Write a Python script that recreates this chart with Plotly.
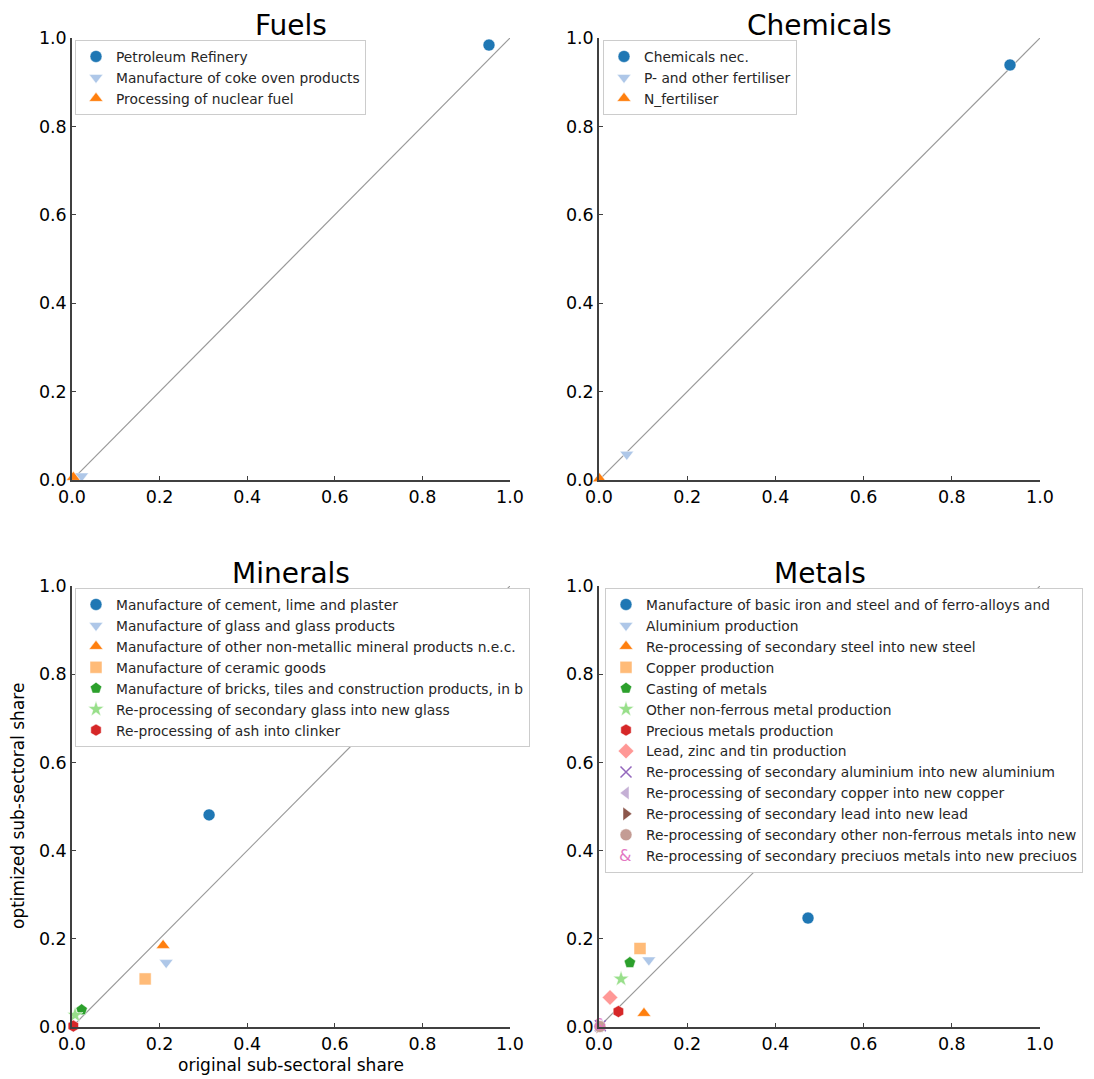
import plotly.graph_objects as go

# ---- data -------------------------------------------------------------
fuels_labels = ["Petroleum Refinery", "Manufacture of coke oven products",
                "Processing of nuclear fuel"]
fuels_orig = [0.952, 0.022, 0.003]
fuels_opt = [0.984, 0.009, 0.006]

chem_labels = ["Chemicals nec.", "P- and other fertiliser", "N_fertiliser"]
chem_orig = [0.932, 0.063, 0.001]
chem_opt = [0.939, 0.058, 0.003]

min_labels = ["Manufacture of cement, lime and plaster",
              "Manufacture of glass and glass products",
              "Manufacture of other non-metallic mineral products n.e.c.",
              "Manufacture of ceramic goods",
              "Manufacture of bricks, tiles and construction products, in b",
              "Re-processing of secondary glass into new glass",
              "Re-processing of ash into clinker"]
min_orig = [0.313, 0.215, 0.208, 0.167, 0.022, 0.007, 0.003]
min_opt = [0.481, 0.146, 0.185, 0.109, 0.039, 0.027, 0.002]

met_labels = ["Manufacture of basic iron and steel and of ferro-alloys and",
              "Aluminium production",
              "Re-processing of secondary steel into new steel",
              "Copper production",
              "Casting of metals",
              "Other non-ferrous metal production",
              "Precious metals production",
              "Lead, zinc and tin production",
              "Re-processing of secondary aluminium into new aluminium",
              "Re-processing of secondary copper into new copper",
              "Re-processing of secondary lead into new lead",
              "Re-processing of secondary other non-ferrous metals into new",
              "Re-processing of secondary preciuos metals into new preciuos"]
met_orig = [0.474, 0.113, 0.102, 0.093, 0.070, 0.050, 0.044, 0.025,
            0.003, 0.002, 0.001, 0.002, 0.002]
met_opt = [0.247, 0.152, 0.031, 0.178, 0.146, 0.109, 0.035, 0.067,
           0.003, 0.002, 0.001, 0.001, 0.002]

colors = ['#1f77b4', '#aec7e8', '#ff7f0e', '#ffbb78', '#2ca02c', '#98df8a',
          '#d62728', '#ff9896', '#9467bd', '#c5b0d5', '#8c564b', '#c49c94',
          '#e377c2']
symbols = ['circle', 'triangle-down', 'triangle-up', 'square', 'pentagon',
           'star', 'hexagon', 'diamond', 'x-thin', 'triangle-left',
           'triangle-right', 'circle', '&']

ticks = [0.0, 0.2, 0.4, 0.6, 0.8, 1.0]
tick_text = ["0.0", "0.2", "0.4", "0.6", "0.8", "1.0"]

W, H = 1094, 1079
FONT = "DejaVu Sans"
LEG_FONT = 13.8
ROW_H = LEG_FONT * 1.3 + 3          # plotly legend row pitch
ROW0 = ROW_H / 2 + 5.4              # first row centre below legend top
LEG_SHIFT = 4                       # nudge legends up a little

# panel geometry in pixels: (left, right, top, bottom), legend top-left
panels = [
    ("Fuels", fuels_labels, fuels_orig, fuels_opt, (72, 510, 38, 480), (75, 44)),
    ("Chemicals", chem_labels, chem_orig, chem_opt, (599, 1040, 38, 480), (603, 44)),
    ("Minerals", min_labels, min_orig, min_opt, (72, 510, 586, 1027), (75, 592)),
    ("Metals", met_labels, met_orig, met_opt, (599, 1040, 586, 1027), (605, 592)),
]

fig = go.Figure()
annotations = []
layout = {}

for i, (title, labels, xo, yo, (l, r, t, b), (lx, ly)) in enumerate(panels):
    n = i + 1
    xa = "x" if n == 1 else f"x{n}"
    ya = "y" if n == 1 else f"y{n}"
    leg = "legend" if n == 1 else f"legend{n}"
    ly = ly - LEG_SHIFT

    # 1:1 reference line
    fig.add_trace(go.Scatter(x=[0, 1], y=[0, 1], mode="lines",
                             line=dict(color="#999999", width=1.2),
                             showlegend=False, hoverinfo="skip",
                             xaxis=xa, yaxis=ya))

    for k, name in enumerate(labels):
        sym = symbols[k]
        if sym == '&':
            # glyph marker drawn as text; legend entry gets a blank marker
            fig.add_trace(go.Scatter(x=[xo[k]], y=[yo[k]], mode="text",
                                     text=["&"], showlegend=False,
                                     textfont=dict(color=colors[k], size=16,
                                                   family=FONT),
                                     cliponaxis=False, xaxis=xa, yaxis=ya))
            fig.add_trace(go.Scatter(x=[None], y=[None], mode="markers",
                                     name=name,
                                     marker=dict(size=12,
                                                 color="rgba(0,0,0,0)"),
                                     legend=leg, xaxis=xa, yaxis=ya))
            annotations.append(dict(
                text="&", x=(lx + 20) / W, y=1 - (ly + ROW0 + k * ROW_H) / H,
                xref="paper", yref="paper", showarrow=False,
                font=dict(family=FONT, size=16, color=colors[k]),
                xanchor="center", yanchor="middle"))
        else:
            mk = dict(symbol=sym, color=colors[k], size=12,
                      line=dict(width=0.5, color="white"))
            if sym == 'x-thin':
                mk = dict(symbol=sym, color=colors[k], size=11,
                          line=dict(width=1.5, color=colors[k]))
            fig.add_trace(go.Scatter(x=[xo[k]], y=[yo[k]], mode="markers",
                                     name=name, marker=mk, cliponaxis=False,
                                     legend=leg, xaxis=xa, yaxis=ya))

    axis_common = dict(range=[0, 1], tickvals=ticks, ticktext=tick_text,
                       showgrid=False, zeroline=False, showline=True,
                       linecolor="#404040", linewidth=1.5, ticks="inside",
                       ticklen=4, tickcolor="#404040", automargin=False,
                       tickfont=dict(family=FONT, size=17.5, color="black"),
                       fixedrange=True)
    layout["xaxis" if n == 1 else f"xaxis{n}"] = dict(
        domain=[l / W, r / W], anchor=ya, **axis_common)
    layout["yaxis" if n == 1 else f"yaxis{n}"] = dict(
        domain=[1 - b / H, 1 - t / H], anchor=xa, **axis_common)
    layout[leg] = dict(x=lx / W, y=1 - ly / H, xanchor="left", yanchor="top",
                       bgcolor="white", bordercolor="#cccccc", borderwidth=1,
                       font=dict(family=FONT, size=LEG_FONT, color="#262626"),
                       tracegroupgap=0, itemsizing="trace")

    annotations.append(dict(text=title, x=(l + r) / 2 / W, y=1 - (t - 13) / H,
                            xref="paper", yref="paper", showarrow=False,
                            font=dict(family=FONT, size=28, color="black"),
                            xanchor="center", yanchor="middle"))

annotations.append(dict(text="optimized sub-sectoral share", x=18 / W,
                        y=1 - 806 / H, xref="paper", yref="paper",
                        showarrow=False, textangle=-90,
                        font=dict(family=FONT, size=17, color="black"),
                        xanchor="center", yanchor="middle"))
annotations.append(dict(text="original sub-sectoral share", x=291 / W,
                        y=1 - 1065 / H, xref="paper", yref="paper",
                        showarrow=False,
                        font=dict(family=FONT, size=17, color="black"),
                        xanchor="center", yanchor="middle"))

fig.update_layout(width=W, height=H, margin=dict(l=0, r=0, t=0, b=0),
                  paper_bgcolor="white", plot_bgcolor="white",
                  annotations=annotations, **layout)

fig.write_html("out.html")
